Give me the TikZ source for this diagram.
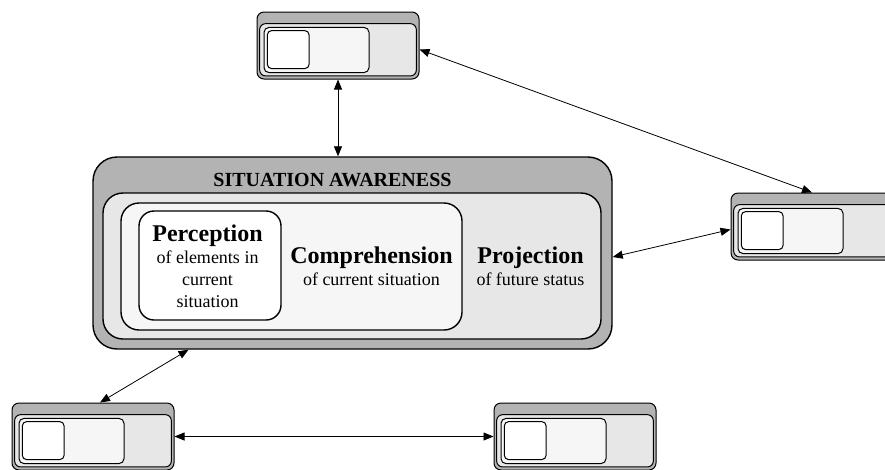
\documentclass[tikz,border=0pt]{standalone}
\usepackage{fontspec}
\setmainfont{Liberation Serif}
\usetikzlibrary{arrows.meta}
\definecolor{saGray}{RGB}{179,179,179}
\definecolor{saLight}{RGB}{231,231,231}
\definecolor{saPale}{RGB}{246,246,246}
\newcommand{\levelhead}[1]{{\fontsize{24}{22}\selectfont\bfseries #1}}

\begin{document}
\begin{tikzpicture}
            [
            x = 1pt, y = -1pt,
            level box/.style = {rectangle, draw, line width = 1.4pt, inner sep = 0},
            mini box/.style = {rectangle, draw, line width = 1pt, inner sep = 0},
            link/.style = {{Triangle[length=10pt,width=8pt]}-{Triangle[length=10pt,width=8pt]}, line width = 0.8pt},
            ]
            \tikzstyle{level text}=[font=\fontsize{18}{22}\selectfont, align=center, inner sep=0]

            \useasboundingbox (0,0) rectangle (885,469);
            \clip (0,0) rectangle (885,469);

            % situation awareness
            \node[level box, fill=saGray, rounded corners=24pt, minimum width=519pt, minimum height=192pt] (sa) at (352.5,253) {};
            \node[level box, fill=saLight, rounded corners=20pt, minimum width=498pt, minimum height=146pt] (proj box) at (352,266) {};
            \node[level box, fill=saPale, rounded corners=18pt, minimum width=341pt, minimum height=127pt] (comp box) at (291.5,266.5) {};
            \node[level box, fill=white, rounded corners=15pt, minimum width=142pt, minimum height=109pt] (perc box) at (210,265.5) {};

            \node[font=\fontsize{20}{24}\selectfont\bfseries, inner sep=0] (title) at (332.5,180.4) {SITUATION AWARENESS};
            \node[level text] (perc) at (207.5,266) {\levelhead{Perception}\\of elements in\\current\\situation};
            \node[level text] (comp) at (371.5,266) {\levelhead{Comprehension}\\of current situation};
            \node[level text] (proj) at (530.5,266) {\levelhead{Projection}\\of future status};

            % small copies
            \foreach \name/\x/\y in {top/257/12, right/731/193, left/12/403, mid/494/403}
            {
                \node[mini box, fill=saGray, rounded corners=7pt, minimum width=162pt, minimum height=67pt] (\name) at (\x+81,\y+33.5) {};
                \node[mini box, fill=saLight, rounded corners=6pt, minimum width=156.7pt, minimum height=52.3pt] (\name-proj) at (\x+81,\y+37.8) {};
                \node[mini box, fill=saPale, rounded corners=5pt, minimum width=105pt, minimum height=45.2pt] (\name-comp) at (\x+59.5,\y+38) {};
                \node[mini box, fill=white, rounded corners=4pt, minimum width=41.6pt, minimum height=37.8pt] (\name-perc) at (\x+31.2,\y+37.6) {};
            }

            % links
            \draw[link] (top.south) -- (top.south |- sa.north);
            \draw[link] ([yshift=-4pt]top.east) -- (right.north);
            \draw[link] ([yshift=-4pt]sa.east) -- ([yshift=-3pt]right.west);
            \draw[link] ([xshift=-164pt]sa.south) -- ([xshift=7pt]left.north);
            \draw[link] (left.east) -- (mid.west);
\end{tikzpicture}
\end{document}
